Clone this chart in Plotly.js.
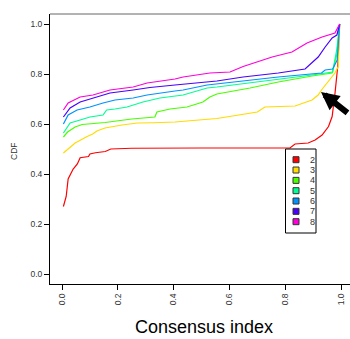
<!DOCTYPE html>
<html><head><meta charset="utf-8">
<script src="https://cdn.plot.ly/plotly-3.0.1.min.js"></script>
<style>html,body{margin:0;padding:0;background:#fff}#chart{width:350px;height:339px}</style>
</head><body><div id="chart"></div>
<script>
// Data (consensus CDF curves for k = 2..8)
const kLabels = ["2","3","4","5","6","7","8"];
const colors = ["#FF0000","#FFDB00","#49FF00","#00FF92","#0092FF","#4900FF","#FF00DB"];

const x2 = [0.005,0.015,0.022,0.04,0.055,0.065,0.095,0.10,0.12,0.155,0.175,0.25,0.5,0.817,0.835,0.882,0.907,0.932,0.955,0.968,0.978,0.988,0.995];
const y2 = [0.27,0.31,0.38,0.42,0.44,0.465,0.47,0.48,0.485,0.49,0.50,0.503,0.504,0.504,0.52,0.524,0.536,0.556,0.59,0.63,0.72,0.83,1.0];

const x3 = [0.005,0.047,0.09,0.11,0.125,0.154,0.215,0.27,0.33,0.405,0.555,0.67,0.70,0.727,0.835,0.896,0.918,0.93,0.953,0.978,0.99,0.995];
const y3 = [0.484,0.524,0.55,0.56,0.572,0.584,0.596,0.604,0.605,0.608,0.622,0.644,0.648,0.668,0.672,0.696,0.716,0.736,0.768,0.804,0.83,1.0];

const x4 = [0.005,0.02,0.047,0.072,0.093,0.154,0.25,0.333,0.34,0.387,0.448,0.505,0.53,0.555,0.674,0.775,0.896,0.968,0.985,0.995];
const y4 = [0.548,0.568,0.588,0.598,0.6,0.606,0.62,0.628,0.648,0.66,0.668,0.688,0.708,0.72,0.744,0.768,0.792,0.804,0.88,1.0];

const x5 = [0.005,0.018,0.029,0.065,0.1,0.147,0.16,0.19,0.233,0.29,0.351,0.434,0.52,0.555,0.674,0.775,0.896,0.97,0.985,0.995];
const y5 = [0.564,0.584,0.604,0.616,0.628,0.636,0.656,0.66,0.668,0.688,0.704,0.716,0.744,0.748,0.764,0.78,0.796,0.808,0.9,1.0];

const x6 = [0.005,0.022,0.054,0.1,0.147,0.19,0.255,0.305,0.405,0.434,0.52,0.674,0.775,0.93,0.943,0.97,0.986,0.995];
const y6 = [0.6,0.636,0.656,0.668,0.684,0.696,0.704,0.716,0.732,0.736,0.756,0.776,0.788,0.804,0.816,0.82,0.856,1.0];

const x7 = [0.005,0.029,0.065,0.111,0.172,0.255,0.315,0.405,0.555,0.649,0.775,0.871,0.896,0.918,0.943,0.968,0.985,0.995];
const y7 = [0.628,0.664,0.688,0.704,0.724,0.736,0.746,0.756,0.772,0.788,0.804,0.82,0.844,0.868,0.908,0.944,0.956,1.0];

const x8 = [0.005,0.022,0.065,0.111,0.172,0.255,0.305,0.405,0.434,0.53,0.602,0.649,0.753,0.824,0.878,0.932,0.978,0.995];
const y8 = [0.656,0.684,0.708,0.716,0.736,0.748,0.764,0.78,0.788,0.804,0.808,0.83,0.868,0.888,0.924,0.948,0.964,1.0];

const xs = [x2,x3,x4,x5,x6,x7,x8];
const ys = [y2,y3,y4,y5,y6,y7,y8];

const tickVals = [0,0.2,0.4,0.6,0.8,1.0];
const tickText = ["0.0","0.2","0.4","0.6","0.8","1.0"];

const W = 350, H = 339, ML = 50, MR = 0, MT = 14, MB = 55;
const PW = W - ML - MR, PH = H - MT - MB;
const px = v => (v - ML) / PW;          // pixel x -> paper
const py = v => (H - MB - v) / PH;      // pixel y -> paper

const FONT = "Liberation Sans, Arial, Helvetica, sans-serif";

const traces = xs.map((x, i) => ({
  x: x, y: ys[i], type: "scatter", mode: "lines",
  line: {color: colors[i], width: 1.2}, name: kLabels[i],
  showlegend: false, hoverinfo: "skip"
}));

const shapes = [
  {type:"line", xref:"paper", yref:"paper", x0:0, x1:1, y0:1, y1:1, line:{color:"#666", width:1}},
  // legend box
  {type:"rect", xref:"paper", yref:"paper", x0:px(285.5), x1:px(316), y0:py(149), y1:py(233),
   line:{color:"#000", width:1}, fillcolor:"#fff", layer:"above"}
];
const annotations = [];
kLabels.forEach((k, i) => {
  const cy = 159.7 + i * 10.33;
  shapes.push({type:"rect", xref:"paper", yref:"paper", x0:px(293), x1:px(299), y0:py(cy+3), y1:py(cy-3),
    line:{color:"#333", width:1}, fillcolor:colors[i], layer:"above"});
  annotations.push({xref:"paper", yref:"paper", x:px(312.5), y:py(cy), text:k, showarrow:false,
    xanchor:"center", yanchor:"middle", font:{family:FONT, size:9, color:"#333"}});
});
annotations.push({xref:"paper", yref:"paper", x:px(203.5), y:py(327), text:"Consensus index", showarrow:false,
  xanchor:"center", yanchor:"middle", font:{family:FONT, size:18, color:"#000"}});
annotations.push({xref:"paper", yref:"paper", x:px(14), y:py(152), text:"CDF", showarrow:false, textangle:-90,
  xanchor:"center", yanchor:"middle", font:{family:FONT, size:8.5, color:"#333"}});
// pointer arrow
annotations.push({x:0.928, y:0.728, xref:"x", yref:"y", ax:28, ay:22, text:"", showarrow:true,
  arrowhead:2, arrowsize:0.6, arrowwidth:6, arrowcolor:"#000", standoff:0});

const layout = {
  width: W, height: H,
  margin: {l: ML, r: MR, t: MT, b: MB, pad: 0},
  paper_bgcolor: "#fff", plot_bgcolor: "#fff",
  showlegend: false,
  font: {family: FONT, size: 8, color: "#333"},
  xaxis: {range: [-0.043, 1.032], tickvals: tickVals, ticktext: tickText, tickangle: -90,
    ticks: "outside", ticklen: 5, tickcolor: "#000", tickwidth: 1,
    showline: true, linecolor: "#000", linewidth: 1, showgrid: false, zeroline: false,
    tickfont: {family: FONT, size: 8.5, color: "#333"}},
  yaxis: {range: [-0.04, 1.04], tickvals: tickVals, ticktext: tickText,
    ticks: "outside", ticklen: 5, tickcolor: "#000", tickwidth: 1,
    showline: true, linecolor: "#000", linewidth: 1, showgrid: false, zeroline: false,
    tickfont: {family: FONT, size: 8.5, color: "#333"}},
  shapes: shapes,
  annotations: annotations
};

Plotly.newPlot("chart", traces, layout, {staticPlot: true, displayModeBar: false});
</script></body></html>
